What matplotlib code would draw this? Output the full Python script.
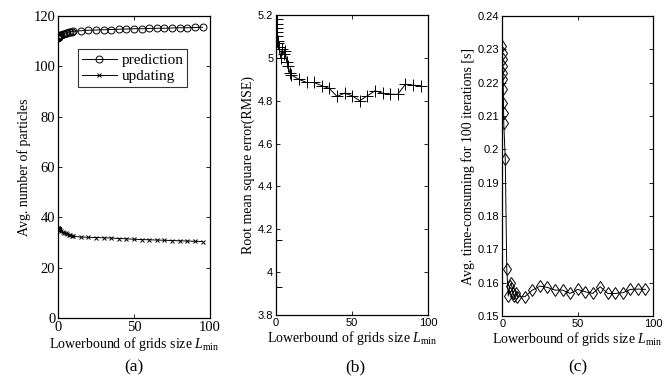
import matplotlib.pyplot as plt

plt.rcParams['mathtext.fontset'] = 'custom'
plt.rcParams['mathtext.rm'] = 'Liberation Serif'
plt.rcParams['mathtext.it'] = 'Liberation Serif:italic'

# shared x values (lower bound of grid size)
x_vals = [0.1, 0.2, 0.3, 0.4, 0.5, 0.6, 0.7, 0.8, 0.9, 1.0,
          2, 3, 4, 5, 6, 7, 8, 9, 10,
          15, 20, 25, 30, 35, 40, 45, 50, 55, 60, 65, 70, 75, 80, 85, 90, 95]

# (a) avg number of particles
prediction = [111.5, 111.6, 111.7, 111.8, 111.9, 112.0, 112.1, 112.2, 112.3, 112.4,
              112.6, 112.9, 113.1, 113.3, 113.5, 113.7, 113.8, 113.9, 114.0,
              114.2, 114.4, 114.5, 114.6, 114.7, 114.8, 114.9, 115.0, 115.0, 115.1,
              115.2, 115.2, 115.3, 115.4, 115.4, 115.5, 115.6]
updating = [35.8, 35.7, 35.6, 35.5, 35.4, 35.3, 35.2, 35.1, 35.0, 34.9,
            34.5, 34.2, 33.9, 33.6, 33.3, 33.1, 32.9, 32.7, 32.5,
            32.2, 32.1, 32.0, 31.9, 31.8, 31.6, 31.5, 31.3, 31.2, 31.1,
            31.0, 30.9, 30.8, 30.7, 30.6, 30.5, 30.4]

# (b) RMSE
rmse = [3.93, 4.15, 5.18, 5.16, 5.14, 5.12, 5.10, 5.08, 5.07, 5.08,
        5.05, 5.00, 5.04, 5.02, 5.03, 4.98, 4.96, 4.93, 4.92,
        4.90, 4.885, 4.885, 4.87, 4.857, 4.82, 4.835, 4.823, 4.80, 4.823,
        4.846, 4.835, 4.83, 4.83, 4.877, 4.872, 4.87]

# (c) avg time for 100 iterations
time_cost = [0.231, 0.229, 0.227, 0.225, 0.223, 0.221, 0.218, 0.214, 0.211, 0.208,
             0.197, 0.164, 0.156, 0.159, 0.160, 0.157, 0.156, 0.157, 0.1558,
             0.1558, 0.1578, 0.159, 0.1586, 0.1578, 0.1578, 0.1568, 0.158, 0.1573, 0.1568,
             0.1588, 0.1568, 0.1568, 0.157, 0.158, 0.1581, 0.158]

serif = 'Liberation Serif'
sans = 'Liberation Sans'
xlab = r'Lowerbound of grids size $\mathit{L}_{\mathrm{min}}$'
lab_fs = 10

fig = plt.figure(figsize=(6.67, 3.85), dpi=100)
ax1 = fig.add_axes([0.087, 0.174, 0.228, 0.784])
ax2 = fig.add_axes([0.414, 0.182, 0.228, 0.779])
ax3 = fig.add_axes([0.753, 0.179, 0.226, 0.779])

for ax in (ax1, ax2, ax3):
    ax.tick_params(direction='in', top=True, right=True, length=3, width=0.6, pad=2)
    for s in ax.spines.values():
        s.set_linewidth(0.9)
    ax.set_xlim(0, 100)
    ax.set_xticks([0, 50, 100])

ax1.plot(x_vals, prediction, 'k-', marker='o', mfc='none', ms=5, lw=0.7, mew=0.7, label='prediction')
ax1.plot(x_vals, updating, 'k-', marker='x', ms=3, lw=0.7, mew=0.7, label='updating')
ax1.set_ylim(0, 120)
ax1.set_yticks(range(0, 121, 20))
ax1.set_ylabel('Avg. number of particles', fontfamily=serif, fontsize=lab_fs, labelpad=2)
ax1.set_xlabel(xlab, fontfamily=serif, fontsize=lab_fs, labelpad=1)
for lb in ax1.get_xticklabels() + ax1.get_yticklabels():
    lb.set_fontfamily(serif)
    lb.set_fontsize(10.5)
leg = ax1.legend(loc='upper left', bbox_to_anchor=(0.13, 0.89), prop={'family': serif, 'size': 11},
                 fancybox=False, edgecolor='k', handlelength=2.3, borderpad=0.25,
                 labelspacing=0.15, handletextpad=0.3, borderaxespad=0)
leg.get_frame().set_linewidth(0.8)

ax2.plot(x_vals, rmse, 'k-', marker='+', ms=8, lw=0.7, mew=0.7)
ax2.set_ylim(3.8, 5.2)
ax2.set_yticks([3.8, 4, 4.2, 4.4, 4.6, 4.8, 5, 5.2])
ax2.set_yticklabels(['3.8', '4', '4.2', '4.4', '4.6', '4.8', '5', '5.2'])
ax2.set_ylabel('Root mean square error(RMSE)', fontfamily=serif, fontsize=lab_fs, labelpad=2)
ax2.set_xlabel(xlab, fontfamily=serif, fontsize=lab_fs, labelpad=1)
for lb in ax2.get_xticklabels() + ax2.get_yticklabels():
    lb.set_fontfamily(sans)
    lb.set_fontsize(8)

ax3.plot(x_vals, time_cost, 'k-', marker='d', mfc='none', ms=6, lw=0.7, mew=0.7)
ax3.set_ylim(0.15, 0.24)
ax3.set_yticks([0.15, 0.16, 0.17, 0.18, 0.19, 0.2, 0.21, 0.22, 0.23, 0.24])
ax3.set_yticklabels(['0.15', '0.16', '0.17', '0.18', '0.19', '0.2', '0.21', '0.22', '0.23', '0.24'])
ax3.set_ylabel('Avg. time-consuming for 100 iterations [s]', fontfamily=serif, fontsize=lab_fs, labelpad=2)
ax3.set_xlabel(xlab, fontfamily=serif, fontsize=lab_fs, labelpad=1)
for lb in ax3.get_xticklabels() + ax3.get_yticklabels():
    lb.set_fontfamily(sans)
    lb.set_fontsize(8)

fig.text(0.200, 0.035, '(a)', ha='center', fontfamily=serif, fontsize=12.5)
fig.text(0.532, 0.035, '(b)', ha='center', fontfamily=serif, fontsize=12.5)
fig.text(0.866, 0.035, '(c)', ha='center', fontfamily=serif, fontsize=12.5)

fig.savefig('out.png', dpi=100)
